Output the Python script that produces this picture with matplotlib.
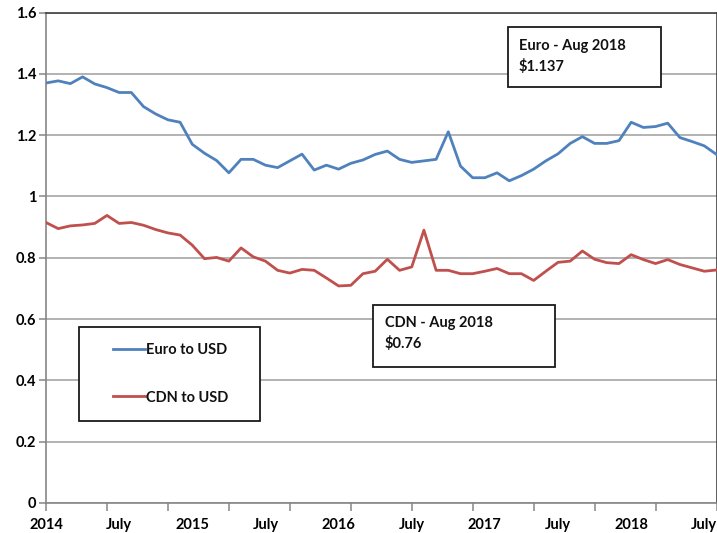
import matplotlib
matplotlib.use("Agg")
import matplotlib.pyplot as plt
from matplotlib.patches import Rectangle
from matplotlib.lines import Line2D

# ---- data (monthly, Jan 2014 .. Aug 2018) ----
euro_usd = [1.370, 1.377, 1.368, 1.390, 1.367, 1.355, 1.339, 1.339, 1.293, 1.269,
            1.250, 1.242, 1.170, 1.141, 1.117, 1.077, 1.121, 1.121, 1.102, 1.094,
            1.116, 1.138, 1.086, 1.102, 1.089, 1.108, 1.119, 1.137, 1.148, 1.121,
            1.111, 1.116, 1.121, 1.211, 1.099, 1.061, 1.061, 1.077, 1.051, 1.068,
            1.089, 1.116, 1.139, 1.173, 1.195, 1.173, 1.173, 1.182, 1.242, 1.225,
            1.228, 1.239, 1.192, 1.179, 1.165, 1.137]
cdn_usd = [0.915, 0.895, 0.904, 0.907, 0.912, 0.938, 0.912, 0.915, 0.906, 0.892,
           0.881, 0.874, 0.841, 0.797, 0.801, 0.789, 0.832, 0.803, 0.789, 0.759,
           0.750, 0.762, 0.759, 0.734, 0.708, 0.710, 0.748, 0.756, 0.795, 0.759,
           0.770, 0.890, 0.759, 0.759, 0.748, 0.748, 0.756, 0.765, 0.748, 0.748,
           0.726, 0.756, 0.785, 0.789, 0.822, 0.795, 0.784, 0.781, 0.810, 0.794,
           0.781, 0.794, 0.778, 0.767, 0.756, 0.760]
series_labels = ["Euro to USD", "CDN to USD"]
x_label_pos = [0, 6, 12, 18, 24, 30, 36, 42, 48, 54]
x_labels = ["2014", "July", "2015", "July", "2016", "July", "2017", "July", "2018", "July"]
x_tickmarks = list(range(0, 56, 5))
y_ticks = [0, 0.2, 0.4, 0.6, 0.8, 1.0, 1.2, 1.4, 1.6]
y_labels = ["0", "0.2", "0.4", "0.6", "0.8", "1", "1.2", "1.4", "1.6"]
euro_note = ["Euro - Aug 2018", "$1.137"]
cdn_note = ["CDN - Aug 2018", "$0.76"]

W, H = 717, 533
FONT = "Lato"
FS = 10.5
BLUE = "#4F81BD"
RED = "#C0504D"
GRID = "#A6A6A6"
AXC = "#868686"

fig = plt.figure(figsize=(W / 100, H / 100), dpi=100)
ax = fig.add_axes([46 / W, 1 - 503 / H, (716.5 - 46) / W, (503 - 12.5) / H])

months = list(range(len(euro_usd)))
l1, = ax.plot(months, euro_usd, color=BLUE, lw=2.0, label=series_labels[0], zorder=3)
l2, = ax.plot(months, cdn_usd, color=RED, lw=2.0, label=series_labels[1], zorder=3)

ax.set_xlim(0, 55)
ax.set_ylim(0, 1.6)

ax.set_yticks(y_ticks)
ax.set_yticklabels(y_labels, fontfamily=FONT, fontweight="bold", fontsize=FS)
ax.tick_params(axis="y", length=5, width=1.1, color=AXC, pad=2)

ax.set_xticks(x_label_pos)
ax.set_xticklabels(x_labels, fontfamily=FONT, fontweight="bold", fontsize=FS)
ax.set_xticks(x_tickmarks, minor=True)
ax.xaxis.remove_overlapping_locs = False
ax.tick_params(axis="x", which="major", length=0, pad=11)
ax.tick_params(axis="x", which="minor", length=6, width=1.1, color=AXC)

ax.yaxis.grid(True, color=GRID, lw=1.2, zorder=0)
ax.set_axisbelow(True)

for s in ("left", "bottom"):
    ax.spines[s].set_color(AXC)
    ax.spines[s].set_linewidth(1.2)
for s in ("top", "right"):
    ax.spines[s].set_color("#404040")
    ax.spines[s].set_linewidth(1.2)


def px_box(x0, y0, x1, y1):
    return Rectangle((x0 / W, 1 - y1 / H), (x1 - x0) / W, (y1 - y0) / H,
                     transform=fig.transFigure, facecolor="white",
                     edgecolor="#1a1a1a", lw=1.3, zorder=5)


def px_text(x, y, s):
    fig.text(x / W, 1 - y / H, s, fontfamily=FONT, fontweight="bold",
             fontsize=FS, ha="left", va="baseline", zorder=6, color="#111111")


# annotation boxes
fig.patches.append(px_box(508, 27, 661, 87))
px_text(519, 50, euro_note[0])
px_text(519, 71, euro_note[1])

fig.patches.append(px_box(373, 305, 555, 367))
px_text(385, 327, cdn_note[0])
px_text(385, 348, cdn_note[1])

# legend box
fig.patches.append(px_box(79, 327, 260, 421))
for line, yc in ((l1, 349), (l2, 396)):
    fig.lines.append(Line2D([113 / W, 145 / W], [1 - yc / H, 1 - yc / H],
                            transform=fig.transFigure, color=line.get_color(),
                            lw=2.0, zorder=6))
    fig.text(146 / W, 1 - yc / H, line.get_label(), fontfamily=FONT,
             fontweight="bold", fontsize=FS, ha="left", va="center_baseline",
             zorder=6, color="#111111")

fig.savefig("out.png", dpi=100)
